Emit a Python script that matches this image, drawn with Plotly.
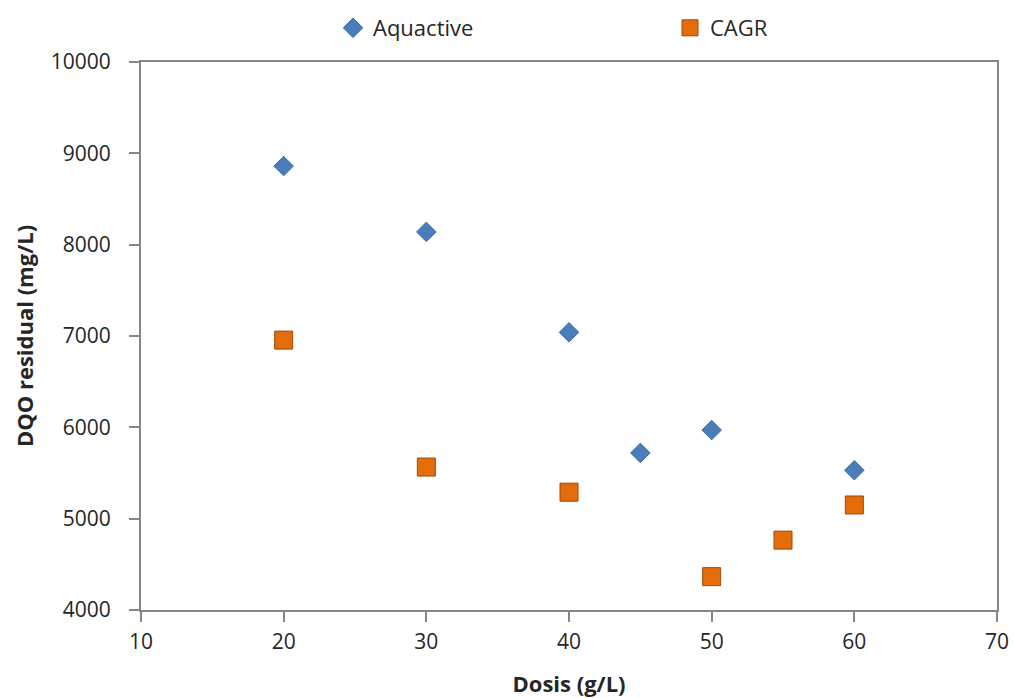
import plotly.graph_objects as go

aq_x = [20, 30, 40, 45, 50, 60]
aq_y = [8860, 8140, 7040, 5720, 5970, 5530]
cagr_x = [20, 30, 40, 50, 55, 60]
cagr_y = [6955, 5565, 5290, 4365, 4765, 5150]

x_ticks = [10, 20, 30, 40, 50, 60, 70]
y_ticks = [4000, 5000, 6000, 7000, 8000, 9000, 10000]

FONT = "Open Sans"
AXIS_COLOR = "#868686"
TXT = "#262626"

fig = go.Figure()
fig.add_trace(go.Scatter(
    x=aq_x, y=aq_y, mode="markers", name="Aquactive", legend="legend",
    marker=dict(symbol="diamond", size=15, color="#4A7EBB",
                line=dict(color="#3C6AA3", width=1)),
))
fig.add_trace(go.Scatter(
    x=cagr_x, y=cagr_y, mode="markers", name="CAGR", legend="legend2",
    marker=dict(symbol="square", size=18, color="#E46C0A",
                line=dict(color="#9C4A08", width=1)),
))

leg_common = dict(
    orientation="h", yanchor="middle", y=1.062,
    font=dict(family=FONT, size=22, color=TXT),
    bgcolor="rgba(0,0,0,0)", itemwidth=30,
)

fig.update_layout(
    width=1014, height=698,
    margin=dict(l=141, r=17, t=62, b=88, autoexpand=False),
    paper_bgcolor="white", plot_bgcolor="white",
    font=dict(family=FONT, size=21, color=TXT),
    showlegend=True,
    legend=dict(x=0.2243, xanchor="left", **leg_common),
    legend2=dict(x=0.618, xanchor="left", **leg_common),
    xaxis=dict(
        range=[10, 70], tickvals=x_ticks, ticktext=[str(v) for v in x_ticks],
        showgrid=False, zeroline=False, automargin=False,
        showline=True, linecolor=AXIS_COLOR, linewidth=2, mirror=True,
        ticks="outside", ticklen=10, tickcolor=AXIS_COLOR, tickwidth=2,
        ticklabelstandoff=2,
        tickfont=dict(family=FONT, size=21, color=TXT),
        title=dict(text="<b>Dosis (g/L)</b>", standoff=31,
                   font=dict(family=FONT, size=22, color=TXT)),
    ),
    yaxis=dict(
        range=[4000, 10000], tickvals=y_ticks, ticktext=[str(v) for v in y_ticks],
        showgrid=False, zeroline=False, automargin=False,
        showline=True, linecolor=AXIS_COLOR, linewidth=2, mirror=True,
        ticks="outside", ticklen=10, tickcolor=AXIS_COLOR, tickwidth=2,
        ticklabelstandoff=14,
        tickfont=dict(family=FONT, size=21, color=TXT),
        title=dict(text="<b>DQO residual (mg/L)</b>", standoff=11,
                   font=dict(family=FONT, size=22, color=TXT)),
    ),
)

fig.write_html(
    "out.html",
    config={"displayModeBar": False},
    post_script="document.body.style.margin='0';document.body.style.overflow='hidden';",
)
